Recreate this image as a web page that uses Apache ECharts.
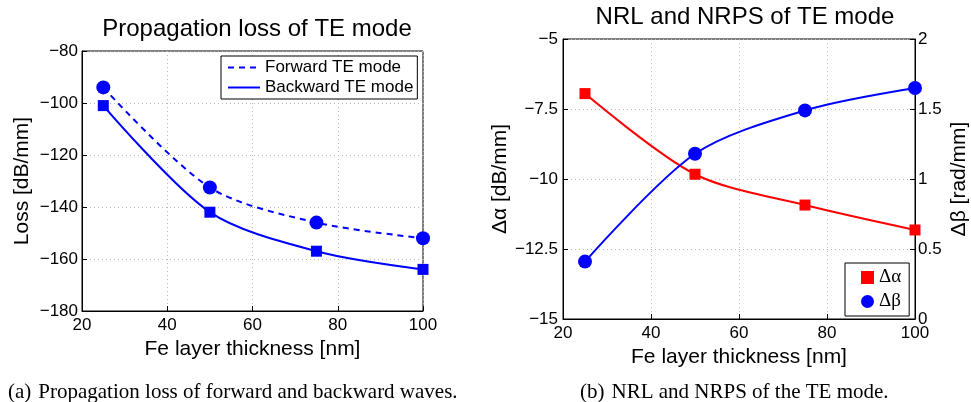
<!DOCTYPE html>
<html>
<head>
<meta charset="utf-8">
<script src="https://cdn.jsdelivr.net/npm/echarts@6/dist/echarts.min.js"></script>
<style>
  html, body { margin: 0; padding: 0; background: #fff; }
  #main { width: 971px; height: 402px; }
</style>
</head>
<body>
<div id="main"></div>
<script>
// thickness of the Fe layer (nm)
var thickness = [25, 50, 75, 100];
// (a) propagation loss, dB/mm
var forwardLoss = [-94, -132.5, -146, -152];
var backwardLoss = [-101, -142, -157, -164];
// (b) non-reciprocal loss / phase shift
var deltaAlpha = [-6.95, -9.83, -10.93, -11.82];
var deltaBeta = [0.41, 1.18, 1.49, 1.65];

var xTicks = [20, 40, 60, 80, 100];

function pairs(xs, ys) {
    var out = [];
    for (var i = 0; i < xs.length; i++) {
        out.push([xs[i], ys[i]]);
    }
    return out;
}

function minus(v) {
    return String(v).replace('-', '\u2212');
}

var sans = 'Liberation Sans';
var serif = 'Liberation Serif';
var blue = '#0000ff';
var red = '#ff0000';

var myChart = echarts.init(document.getElementById('main'));

var axisCommon = {
    axisLine: { show: true, onZero: false, lineStyle: { color: '#000', width: 1 } },
    axisTick: { show: true, inside: true, length: 5, lineStyle: { color: '#000' } },
    axisLabel: { color: '#000', fontFamily: sans, fontSize: 17, margin: 6, formatter: minus },
    splitLine: { show: true, lineStyle: { color: '#b8b8b8', type: [1, 3], width: 1 } },
    nameTextStyle: { color: '#000', fontFamily: sans, fontSize: 21 }
};

function axis(extra) {
    return echarts.util.merge(echarts.util.clone(axisCommon), extra, true);
}

var option = {
    animation: false,
    backgroundColor: '#fff',
    title: [
        { text: 'Propagation loss of TE mode', left: 252, top: 12, textAlign: 'center',
          textStyle: { fontFamily: sans, fontSize: 24, fontWeight: 'normal', color: '#000' } },
        { text: 'NRL and NRPS of TE mode', left: 740, top: 0, textAlign: 'center',
          textStyle: { fontFamily: sans, fontSize: 24, fontWeight: 'normal', color: '#000' } },
        { text: '(a) \u200aPropagation loss of forward and backward waves.', left: 3, top: 377,
          textStyle: { fontFamily: serif, fontSize: 21, fontWeight: 'normal', color: '#000' } },
        { text: '(b) \u200aNRL and NRPS of the TE mode.', left: 575, top: 377,
          textStyle: { fontFamily: serif, fontSize: 21, fontWeight: 'normal', color: '#000' } }
    ],
    grid: [
        { left: 82, top: 51, width: 341, height: 260, show: true, borderColor: '#000', borderWidth: 1 },
        { left: 563, top: 39, width: 355, height: 280, show: true, borderColor: '#000', borderWidth: 1 }
    ],
    legend: [
        {
            orient: 'vertical', left: 221, top: 56,
            borderColor: '#000', borderWidth: 1, backgroundColor: '#fff',
            padding: [3, 4, 3, 6], itemGap: 3, itemWidth: 32, itemHeight: 14,
            itemStyle: { opacity: 0 },
            textStyle: { fontFamily: sans, fontSize: 17, color: '#000' },
            data: ['Forward TE mode', 'Backward TE mode']
        },
        {
            orient: 'vertical', left: 845, top: 263,
            borderColor: '#000', borderWidth: 1, backgroundColor: '#fff',
            padding: [5, 8, 5, 16], itemGap: 5, itemWidth: 13, itemHeight: 13,
            textStyle: { fontFamily: serif, fontSize: 19, color: '#000' },
            data: [{ name: '\u0394\u03b1', icon: 'rect' }, { name: '\u0394\u03b2', icon: 'circle' }]
        }
    ],
    xAxis: [
        axis({ gridIndex: 0, type: 'value', min: xTicks[0], max: xTicks[xTicks.length - 1], interval: 20,
               name: 'Fe layer thickness [nm]', nameLocation: 'middle', nameGap: 25 }),
        axis({ gridIndex: 1, type: 'value', min: xTicks[0], max: xTicks[xTicks.length - 1], interval: 20,
               name: 'Fe layer thickness [nm]', nameLocation: 'middle', nameGap: 24 })
    ],
    yAxis: [
        axis({ gridIndex: 0, type: 'value', min: -180, max: -80, interval: 20,
               axisLabel: { margin: 4 },
               name: 'Loss [dB/mm]', nameLocation: 'middle', nameGap: 49 }),
        axis({ gridIndex: 1, type: 'value', min: -15, max: -5, interval: 2.5,
               axisLabel: { margin: 5 },
               name: '\u0394\u03b1 [dB/mm]', nameLocation: 'middle', nameGap: 50 }),
        axis({ gridIndex: 1, type: 'value', min: 0, max: 2, interval: 0.5, position: 'right',
               axisLabel: { margin: 3 },
               splitLine: { show: false },
               name: '\u0394\u03b2 [rad/mm]', nameLocation: 'middle', nameGap: 34, nameRotate: 90 })
    ],
    series: [
        {
            name: 'Forward TE mode', type: 'line', xAxisIndex: 0, yAxisIndex: 0,
            data: pairs(thickness, forwardLoss), smooth: 0.3,
            symbol: 'circle', symbolSize: 14,
            lineStyle: { color: blue, width: 2, type: [6, 5] },
            itemStyle: { color: blue }
        },
        {
            name: 'Backward TE mode', type: 'line', xAxisIndex: 0, yAxisIndex: 0,
            data: pairs(thickness, backwardLoss), smooth: 0.3,
            symbol: 'rect', symbolSize: 11,
            lineStyle: { color: blue, width: 2 },
            itemStyle: { color: blue }
        },
        {
            name: '\u0394\u03b1', type: 'line', xAxisIndex: 1, yAxisIndex: 1,
            data: pairs(thickness, deltaAlpha), smooth: 0.3,
            symbol: 'rect', symbolSize: 11,
            lineStyle: { color: red, width: 2 },
            itemStyle: { color: red }
        },
        {
            name: '\u0394\u03b2', type: 'line', xAxisIndex: 1, yAxisIndex: 2,
            data: pairs(thickness, deltaBeta), smooth: 0.3,
            symbol: 'circle', symbolSize: 14,
            lineStyle: { color: blue, width: 2 },
            itemStyle: { color: blue }
        }
    ]
};

myChart.setOption(option);
</script>
</body>
</html>
